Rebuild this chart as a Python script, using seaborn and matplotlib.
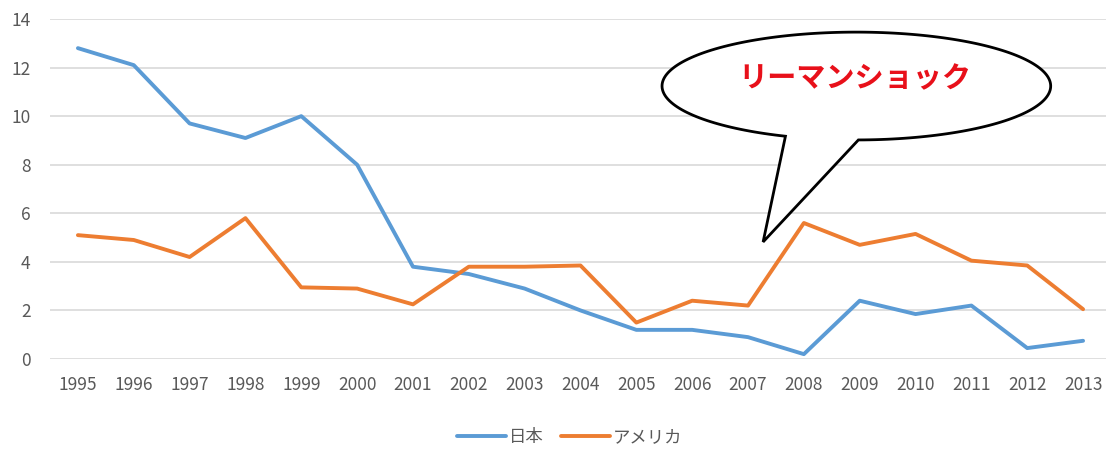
import numpy as np
import pandas as pd
import matplotlib
matplotlib.use('Agg')
import matplotlib.pyplot as plt
from matplotlib.path import Path
from matplotlib.patches import PathPatch
import seaborn as sns

# data
years = list(range(1995, 2014))
japan = [12.8, 12.1, 9.7, 9.1, 10.0, 8.0, 3.8, 3.5, 2.9, 2.0, 1.2, 1.2, 0.9, 0.2, 2.4, 1.85, 2.2, 0.45, 0.75]
usa = [5.1, 4.9, 4.2, 5.8, 2.95, 2.9, 2.25, 3.8, 3.8, 3.85, 1.5, 2.4, 2.2, 5.6, 4.7, 5.15, 4.05, 3.85, 2.05]
series_names = ['日本', 'アメリカ']
colors = ['#5B9BD5', '#ED7D31']

df = pd.DataFrame({
    'pos': list(range(len(years))) * 2,
    'value': japan + usa,
    'series': [series_names[0]] * len(years) + [series_names[1]] * len(years),
})

sns.set_style('white')
plt.rcParams['font.family'] = ['Noto Sans CJK JP', 'DejaVu Sans']

fig = plt.figure(figsize=(11.06, 4.49), dpi=100)
ax = fig.add_axes([50 / 1106, 1 - 359 / 449, 1061 / 1106, 340 / 449])

sns.lineplot(data=df, x='pos', y='value', hue='series', palette=dict(zip(series_names, colors)),
             linewidth=2.8, ax=ax, legend=True)

ax.set_xlim(-0.5, len(years) - 0.5)
ax.set_ylim(0, 14)
ax.set_yticks(range(0, 15, 2))
ax.set_xticks(range(len(years)))
ax.set_xticklabels([str(y) for y in years])
ax.tick_params(axis='both', length=0, labelsize=12.5, labelcolor='#595959')
ax.tick_params(axis='y', pad=14)
ax.tick_params(axis='x', pad=12)
ax.set_xlabel('')
ax.set_ylabel('')
ax.grid(axis='y', color='#D9D9D9', linewidth=1.2)
ax.set_axisbelow(True)
for s in ax.spines.values():
    s.set_visible(False)

# speech bubble (ellipse with a tail)
cx, cy, a, b = 13.94, 11.24, 3.48, 2.22
t = np.radians(np.linspace(270.6, 270.6 + 338, 200))
verts = list(zip(cx + a * np.cos(t), cy + b * np.sin(t)))
verts.append((12.27, 4.82))
verts.append(verts[0])
codes = [Path.MOVETO] + [Path.LINETO] * (len(verts) - 2) + [Path.CLOSEPOLY]
bubble = PathPatch(Path(verts, codes), facecolor='white', edgecolor='black', linewidth=2, zorder=5, clip_on=False)
ax.add_patch(bubble)
ax.text(13.92, 11.55, 'リーマンショック', color='#E8101A', fontsize=21, fontweight='bold',
        ha='center', va='center', zorder=6)

ax.legend(handles=ax.get_legend_handles_labels()[0], labels=series_names, loc='upper center',
          bbox_to_anchor=(0.49, -0.157), ncol=2, frameon=False, fontsize=12.5,
          handlelength=2.8, handletextpad=0.2, columnspacing=1.0, labelcolor='#595959')

fig.savefig('out.png', dpi=100)
